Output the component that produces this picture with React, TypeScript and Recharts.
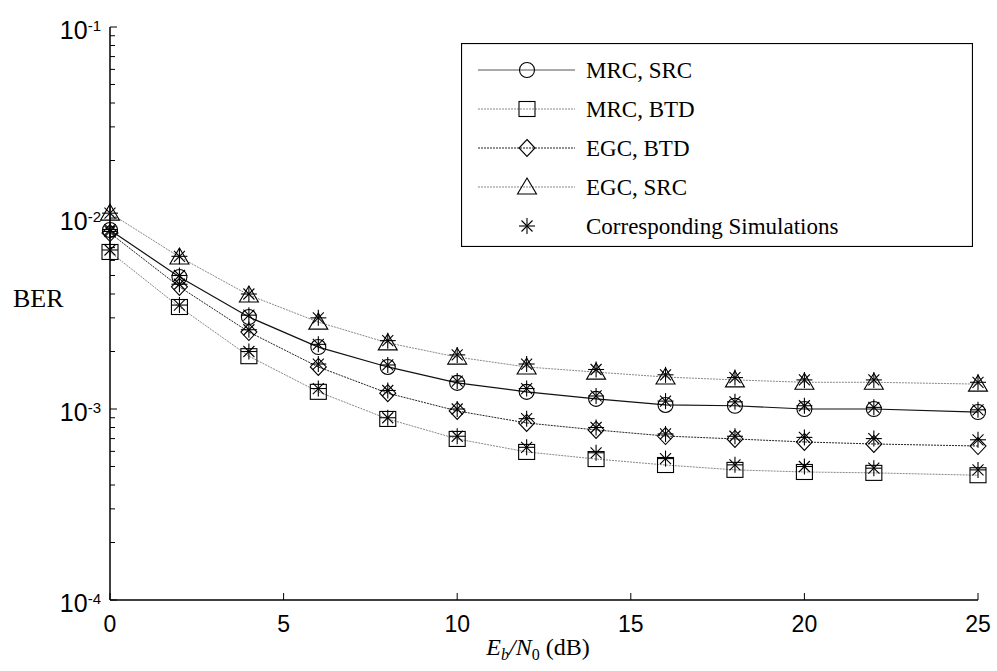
import React from 'react';
import { LineChart, Line, XAxis, YAxis } from 'recharts';

// Eb/N0 (dB)
const EBN0 = [0, 2, 4, 6, 8, 10, 12, 14, 16, 18, 20, 22, 25];

// analytical curves
const MRC_SRC = [0.00865, 0.00491, 0.00303, 0.00211, 0.00166, 0.00137, 0.00123, 0.00113, 0.00105, 0.00104, 0.001, 0.001, 0.000964];
const MRC_BTD = [0.00664, 0.00342, 0.00189, 0.00123, 0.000887, 0.000697, 0.000596, 0.000547, 0.000509, 0.00048, 0.000468, 0.000463, 0.00045];
const EGC_BTD = [0.00834, 0.00436, 0.00253, 0.00166, 0.00121, 0.000977, 0.000845, 0.000777, 0.000722, 0.000697, 0.000672, 0.000656, 0.00064];
const EGC_SRC = [0.0106, 0.00625, 0.00395, 0.00285, 0.00222, 0.00187, 0.00166, 0.00156, 0.00147, 0.00142, 0.00138, 0.00138, 0.00135];

// simulations
const SIM_MRC_SRC = [0.0087, 0.005, 0.0031, 0.00218, 0.0017, 0.0014, 0.00128, 0.00117, 0.0011, 0.00109, 0.00104, 0.00102, 0.00099];
const SIM_MRC_BTD = [0.0068, 0.0035, 0.002, 0.00128, 0.0009, 0.00072, 0.00063, 0.00059, 0.00055, 0.00051, 0.0005, 0.00049, 0.00048];
const SIM_EGC_BTD = [0.0085, 0.0045, 0.0026, 0.00172, 0.00125, 0.001, 0.00089, 0.0008, 0.00074, 0.00072, 0.00071, 0.0007, 0.00069];
const SIM_EGC_SRC = [0.0106, 0.0063, 0.004, 0.003, 0.00228, 0.00192, 0.00172, 0.00161, 0.00151, 0.00146, 0.00142, 0.00142, 0.00138];

const X_TICKS = [0, 5, 10, 15, 20, 25];
const Y_DECADES = [1e-4, 1e-3, 1e-2];
const Y_MANTISSAS = [1, 2, 3, 4, 5, 6, 7, 8, 9];
const Y_TICKS = Y_DECADES.flatMap((d) => Y_MANTISSAS.map((m) => m * d)).concat([1e-1]);

const data = EBN0.map((x, i) => ({
  x,
  mrcSrc: MRC_SRC[i],
  mrcBtd: MRC_BTD[i],
  egcBtd: EGC_BTD[i],
  egcSrc: EGC_SRC[i],
  simMrcSrc: SIM_MRC_SRC[i],
  simMrcBtd: SIM_MRC_BTD[i],
  simEgcBtd: SIM_EGC_BTD[i],
  simEgcSrc: SIM_EGC_SRC[i],
}));

const SANS = '"Liberation Sans", Arial, sans-serif';
const SERIF = '"Liberation Serif", "Times New Roman", serif';
const MK = { fill: 'none', stroke: '#000', strokeWidth: 1.1 };

const Circle = ({ cx, cy }: any) => <circle cx={cx} cy={cy} r={7.5} {...MK} />;
const Square = ({ cx, cy }: any) => <rect x={cx - 8} y={cy - 7.5} width={16} height={15} {...MK} />;
const Diamond = ({ cx, cy }: any) => (
  <path d={`M${cx},${cy - 8.5} L${cx + 8},${cy} L${cx},${cy + 8.5} L${cx - 8},${cy} Z`} {...MK} />
);
const Triangle = ({ cx, cy }: any) => (
  <path d={`M${cx},${cy - 9} L${cx + 9.5},${cy + 7} L${cx - 9.5},${cy + 7} Z`} {...MK} />
);
const Star = ({ cx, cy }: any) => (
  <g stroke="#000" strokeWidth={1.1}>
    <line x1={cx} y1={cy - 8} x2={cx} y2={cy + 8} />
    <line x1={cx - 8} y1={cy} x2={cx + 8} y2={cy} />
    <line x1={cx - 5.5} y1={cy - 5.5} x2={cx + 5.5} y2={cy + 5.5} />
    <line x1={cx - 5.5} y1={cy + 5.5} x2={cx + 5.5} y2={cy - 5.5} />
  </g>
);

const dotOf = (Shape: any, name: string) => (p: any) =>
  p.cx == null ? <g key={`${name}-${p.index}`} /> : <Shape key={`${name}-${p.index}`} cx={p.cx} cy={p.cy} />;

const isMajor = (v: number) => {
  const l = Math.log10(v);
  return Math.abs(l - Math.round(l)) < 1e-6;
};

const makeTick = (side: 'left' | 'right' | 'top' | 'bottom') => (props: any) => {
  const { x, y, payload } = props;
  const v = payload.value;
  if (side === 'bottom') {
    return (
      <g>
        <line x1={x} y1={y} x2={x} y2={y - 7} stroke="#000" strokeWidth={1} />
        <text x={x} y={y + 32} textAnchor="middle" fontFamily={SANS} fontSize={23} fill="#000">
          {v}
        </text>
      </g>
    );
  }
  if (side === 'top') {
    if (v === 0 || v === 25) return <g />;
    return <line x1={x} y1={y} x2={x} y2={y + 7} stroke="#000" strokeWidth={1} />;
  }
  const major = isMajor(v);
  const len = major ? 7 : 5;
  if (side === 'right') {
    return <line x1={x} y1={y} x2={x - len} y2={y} stroke="#000" strokeWidth={1} />;
  }
  const exp = Math.round(Math.log10(v));
  return (
    <g>
      <line x1={x} y1={y} x2={x + len} y2={y} stroke="#000" strokeWidth={1} />
      {major && (
        <text x={101} y={y + 12} textAnchor="end" fontFamily={SANS} fontSize={25} fill="#000">
          10
          <tspan dy={-8} fontSize={15}>
            {exp}
          </tspan>
        </text>
      )}
    </g>
  );
};

const LEGEND = [
  { label: 'MRC, SRC', Shape: Circle, stroke: '#555', dash: undefined },
  { label: 'MRC, BTD', Shape: Square, stroke: '#888', dash: '2 1' },
  { label: 'EGC, BTD', Shape: Diamond, stroke: '#222', dash: '2 1' },
  { label: 'EGC, SRC', Shape: Triangle, stroke: '#888', dash: '2 1' },
  { label: 'Corresponding Simulations', Shape: Star, stroke: 'none', dash: undefined },
];

const LegendBox = () => (
  <svg
    width={512}
    height={204}
    style={{ position: 'absolute', left: 461, top: 43 }}
  >
    <rect x={0.5} y={0.5} width={511} height={203} fill="#fff" stroke="#000" strokeWidth={1.2} />
    {LEGEND.map((it, i) => {
      const cy = 27 + i * 39;
      return (
        <g key={it.label}>
          {it.stroke !== 'none' && (
            <line x1={17} y1={cy} x2={114} y2={cy} stroke={it.stroke} strokeWidth={1} strokeDasharray={it.dash} />
          )}
          <it.Shape cx={66} cy={cy} />
          <text x={125} y={cy + 8} fontFamily={SERIF} fontSize={23} fill="#000">
            {it.label}
          </text>
        </g>
      );
    })}
  </svg>
);

export default function App() {
  return (
    <div style={{ position: 'absolute', left: 0, top: 0, width: 997, height: 671, background: '#fff' }}>
      <LineChart width={997} height={671} data={data} margin={{ top: 27, right: 19, bottom: 0, left: 0 }}>
        <XAxis
          dataKey="x"
          type="number"
          domain={[0, 25]}
          ticks={X_TICKS}
          interval={0}
          height={71}
          tickSize={0}
          tickMargin={0}
          tickLine={false}
          axisLine={{ stroke: '#000', strokeWidth: 1.5 }}
          tick={makeTick('bottom')}
          label={{
            content: ({ viewBox }: any) => (
              <text
                x={viewBox.x + viewBox.width / 2 - 6}
                y={viewBox.y + 55}
                textAnchor="middle"
                fontFamily={SERIF}
                fontSize={24}
                fill="#000"
              >
                <tspan fontStyle="italic">E</tspan>
                <tspan fontStyle="italic" fontSize={16} dy={5}>b</tspan>
                <tspan fontStyle="italic" dy={-5}>/N</tspan>
                <tspan fontSize={16} dy={5}>0</tspan>
                <tspan dy={-5}> (dB)</tspan>
              </text>
            ),
          }}
        />
        <XAxis
          xAxisId="top"
          orientation="top"
          dataKey="x"
          type="number"
          domain={[0, 25]}
          ticks={X_TICKS}
          interval={0}
          height={0}
          tickSize={0}
          tickMargin={0}
          tickLine={false}
          axisLine={{ stroke: '#000', strokeWidth: 1.5 }}
          tick={makeTick('top')}
        />
        <YAxis
          scale="log"
          type="number"
          domain={[1e-4, 1e-1]}
          allowDataOverflow
          ticks={Y_TICKS}
          interval={0}
          width={110}
          tickSize={0}
          tickMargin={0}
          tickLine={false}
          axisLine={{ stroke: '#000', strokeWidth: 1.5 }}
          tick={makeTick('left')}
          label={{
            content: ({ viewBox }: any) => (
              <text x={13} y={viewBox.y + 280} fontFamily={SERIF} fontSize={26} fill="#000">
                BER
              </text>
            ),
          }}
        />
        <YAxis
          yAxisId="right"
          orientation="right"
          scale="log"
          type="number"
          domain={[1e-4, 1e-1]}
          allowDataOverflow
          ticks={Y_TICKS}
          interval={0}
          width={0}
          tickSize={0}
          tickMargin={0}
          tickLine={false}
          axisLine={{ stroke: '#000', strokeWidth: 1.5 }}
          tick={makeTick('right')}
        />
        <Line dataKey="mrcSrc" stroke="#111" strokeWidth={1.2} dot={dotOf(Circle, 'c')} activeDot={false} isAnimationActive={false} />
        <Line dataKey="mrcBtd" stroke="#888" strokeWidth={1} strokeDasharray="2 1" dot={dotOf(Square, 's')} activeDot={false} isAnimationActive={false} />
        <Line dataKey="egcBtd" stroke="#222" strokeWidth={1} strokeDasharray="2 1" dot={dotOf(Diamond, 'd')} activeDot={false} isAnimationActive={false} />
        <Line dataKey="egcSrc" stroke="#888" strokeWidth={1} strokeDasharray="2 1" dot={dotOf(Triangle, 't')} activeDot={false} isAnimationActive={false} />
        <Line dataKey="simMrcSrc" stroke="none" dot={dotOf(Star, 'a')} activeDot={false} isAnimationActive={false} />
        <Line dataKey="simMrcBtd" stroke="none" dot={dotOf(Star, 'b')} activeDot={false} isAnimationActive={false} />
        <Line dataKey="simEgcBtd" stroke="none" dot={dotOf(Star, 'e')} activeDot={false} isAnimationActive={false} />
        <Line dataKey="simEgcSrc" stroke="none" dot={dotOf(Star, 'f')} activeDot={false} isAnimationActive={false} />
      </LineChart>
      <LegendBox />
    </div>
  );
}
